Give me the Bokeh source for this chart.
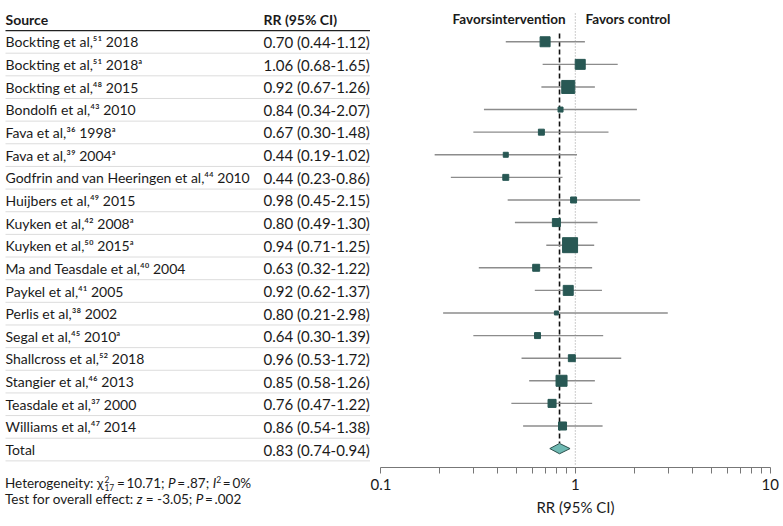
from bokeh.plotting import figure
from bokeh.layouts import row, column
from bokeh.models import (Range1d, FixedTicker, CustomJSTickFormatter,
                          ColumnDataSource, Div)
from bokeh.core.properties import value
from bokeh.embed import file_html
from bokeh.resources import INLINE

# ---------------- data ----------------
sources = [
    "Bockting et al,\u2075\u00b9 2018",
    "Bockting et al,\u2075\u00b9 2018\u1d43",
    "Bockting et al,\u2074\u2078 2015",
    "Bondolfi et al,\u2074\u00b3 2010",
    "Fava et al,\u00b3\u2076 1998\u1d43",
    "Fava et al,\u00b3\u2079 2004\u1d43",
    "Godfrin and van Heeringen et al,\u2074\u2074 2010",
    "Huijbers et al,\u2074\u2079 2015",
    "Kuyken et al,\u2074\u00b2 2008\u1d43",
    "Kuyken et al,\u2075\u2070 2015\u1d43",
    "Ma and Teasdale et al,\u2074\u2070 2004",
    "Paykel et al,\u2074\u00b9 2005",
    "Perlis et al,\u00b3\u2078 2002",
    "Segal et al,\u2074\u2075 2010\u1d43",
    "Shallcross et al,\u2075\u00b2 2018",
    "Stangier et al,\u2074\u2076 2013",
    "Teasdale et al,\u00b3\u2077 2000",
    "Williams et al,\u2074\u2077 2014",
]
rr = [0.70, 1.06, 0.92, 0.84, 0.67, 0.44, 0.44, 0.98, 0.80, 0.94, 0.63, 0.92, 0.80, 0.64, 0.96, 0.85, 0.76, 0.86]
ci_low = [0.44, 0.68, 0.67, 0.34, 0.30, 0.19, 0.23, 0.45, 0.49, 0.71, 0.32, 0.62, 0.21, 0.30, 0.53, 0.58, 0.47, 0.54]
ci_high = [1.12, 1.65, 1.26, 2.07, 1.48, 1.02, 0.86, 2.15, 1.30, 1.25, 1.22, 1.37, 2.98, 1.39, 1.72, 1.26, 1.22, 1.38]
weights = [7.6, 7.6, 12.9, 1.9, 2.7, 1.9, 2.7, 2.7, 4.9, 17.1, 3.7, 7.6, 1.2, 2.7, 3.7, 9.2, 4.9, 4.9]
total_label = "Total"
total_rr, total_low, total_high = 0.83, 0.74, 0.94
major_ticks = [0.1, 1, 10]
minor_ticks = [0.2, 0.3, 0.4, 0.5, 0.6, 0.7, 0.8, 0.9, 2, 3, 4, 5, 6, 7, 8, 9]
het_chi2, het_df, het_p, het_i2 = "10.71", "17", ".87", "0%"
eff_z, eff_p = "-3.05", ".002"
x_label = "RR (95% CI)"

# ---------------- layout helpers ----------------
H = 518
AXIS_Y = 468
LEFT_W = 370
RIGHT_W = 410
ROW0, ROWH = 18.7, 22.65          # picture y of header row, row height
def page_to_row(py):
    return (py - ROW0) / ROWH
X0_PAGE, PX_DEC = 379.8, 195.0     # picture x of 0.1, pixels per decade
def page_to_log(px):
    return 10 ** (-1 + (px - X0_PAGE) / PX_DEC)

FONT_NAME = "Lato"
FONT = value(FONT_NAME)
TXT = "#1a1a1a"
SQ = "#285854"

n = len(sources)
rows = list(range(1, n + 1))
total_row = n + 1

# ================= left: table =================
t = figure(width=LEFT_W, height=AXIS_Y, output_backend="svg", toolbar_location=None,
           x_axis_location=None, y_axis_location=None,
           x_range=Range1d(0, LEFT_W),
           y_range=Range1d(page_to_row(AXIS_Y), page_to_row(0)),
           min_border=0, outline_line_color=None)
t.grid.visible = False

TAB_X0, TAB_X1, RR_X = 5, LEFT_W, 263
sep_rows = [r + 0.5 for r in rows] + [total_row + 0.5]
t.segment(x0=TAB_X0, x1=TAB_X1, y0=sep_rows, y1=sep_rows, line_color="#dcdcdc", line_width=1)
t.segment(x0=TAB_X0, x1=TAB_X1, y0=0.5, y1=0.5, line_color="#222222", line_width=1.2)

rr_text = ["%.2f (%.2f-%.2f)" % (a, b, c) for a, b, c in zip(rr, ci_low, ci_high)]
tab = ColumnDataSource(dict(y=rows + [total_row], src=sources + [total_label],
                            rrt=rr_text + ["%.2f (%.2f-%.2f)" % (total_rr, total_low, total_high)]))
t.text(x=TAB_X0, y="y", text="src", source=tab, text_font=FONT, text_font_size="14px",
       text_color=TXT, text_baseline="middle", text_align="left")
t.text(x=RR_X, y="y", text="rrt", source=tab, text_font=FONT, text_font_size="15px",
       text_color=TXT, text_baseline="middle", text_align="left")
t.text(x=[TAB_X0, RR_X], y=[0, 0], text=["Source", "RR (95% CI)"], text_font=FONT,
       text_font_size="14px", text_font_style="bold", text_color=TXT, text_baseline="middle")

TS = "\u2009"  # thin space
foot_html = (
    '<div style="font-family:Lato;font-size:13.5px;color:{c};padding-left:5px;'
    'padding-top:7px;white-space:nowrap">'
    '<div style="height:16px;line-height:16px">Heterogeneity: \u03c7'
    '<span style="display:inline-block;vertical-align:-3px;font-size:8.5px;'
    'line-height:8px;margin:0 1px">2<br>{df}</span>{s}={s}{chi}; '
    '<i>P</i>{s}={s}{hp}; <i>I</i><span style="font-size:8.5px;vertical-align:5px;'
    'line-height:9px">2</span>{s}={s}{i2}</div>'
    '<div style="height:16px;line-height:16px">Test for overall effect: '
    '<i>z</i> = {z}; <i>P</i>{s}={s}{ep}</div></div>'
).format(c=TXT, df=het_df, chi=het_chi2, hp=het_p, i2=het_i2, z=eff_z, ep=eff_p, s=TS)
foot = Div(text=foot_html, width=LEFT_W, height=H - AXIS_Y, margin=0)

# ================= right: forest =================
f = figure(width=RIGHT_W, height=H, output_backend="svg", toolbar_location=None,
           x_axis_type="log", y_axis_location=None,
           x_range=Range1d(page_to_log(LEFT_W), page_to_log(LEFT_W + RIGHT_W)),
           y_range=Range1d(page_to_row(AXIS_Y), page_to_row(0)),
           min_border_left=0, min_border_right=0, min_border_top=0,
           min_border_bottom=H - AXIS_Y, outline_line_color=None)
f.grid.visible = False

f.text(x=[page_to_log(565)], y=[0], text=["Favorsintervention"],
       text_font=FONT, text_font_size="13.5px", text_font_style="bold", text_color=TXT,
       text_baseline="middle", text_align="right")
f.text(x=[page_to_log(585)], y=[0], text=["Favors control"],
       text_font=FONT, text_font_size="13.5px", text_font_style="bold", text_color=TXT,
       text_baseline="middle", text_align="left")

f.segment(x0=1, x1=1, y0=page_to_row(13), y1=page_to_row(466),
          line_color="#9a9a9a", line_width=1, line_dash="1 2")
f.segment(x0=total_rr, x1=total_rr, y0=page_to_row(33), y1=total_row - 0.25,
          line_color="#111111", line_width=1.6, line_dash="5 3")

f.segment(x0=ci_low, x1=ci_high, y0=rows, y1=rows, line_color="#8c8c8c", line_width=1.4)
sizes = [3.63 * w ** 0.5 for w in weights]
f.scatter(x=rr, y=rows, size=sizes, marker="square", fill_color=SQ, line_color=SQ)
f.patch(x=[total_low, total_rr, total_high, total_rr],
        y=[total_row, total_row - 0.23, total_row, total_row + 0.23],
        fill_color="#6fbab3", line_color="#2a4f4c", line_width=1)

ax = f.xaxis[0]
ax.bounds = (0.1, 10)
ax.ticker = FixedTicker(ticks=major_ticks, minor_ticks=minor_ticks)
ax.formatter = CustomJSTickFormatter(code="return tick.toString()")
ax.axis_line_color = "#777777"
ax.major_tick_line_color = "#777777"
ax.minor_tick_line_color = "#777777"
ax.major_tick_in = 0
ax.major_tick_out = 6
ax.minor_tick_in = 0
ax.minor_tick_out = 6
ax.major_label_standoff = 5
ax.major_label_text_font = FONT_NAME
ax.major_label_text_font_size = "15px"
ax.major_label_text_color = TXT
ax.axis_label = x_label
ax.axis_label_standoff = 5
ax.axis_label_text_font = FONT_NAME
ax.axis_label_text_font_size = "15px"
ax.axis_label_text_font_style = "normal"
ax.axis_label_text_color = TXT

layout = row(column(t, foot, spacing=0), f, spacing=0)
open("out.html", "w").write(file_html(layout, INLINE))
